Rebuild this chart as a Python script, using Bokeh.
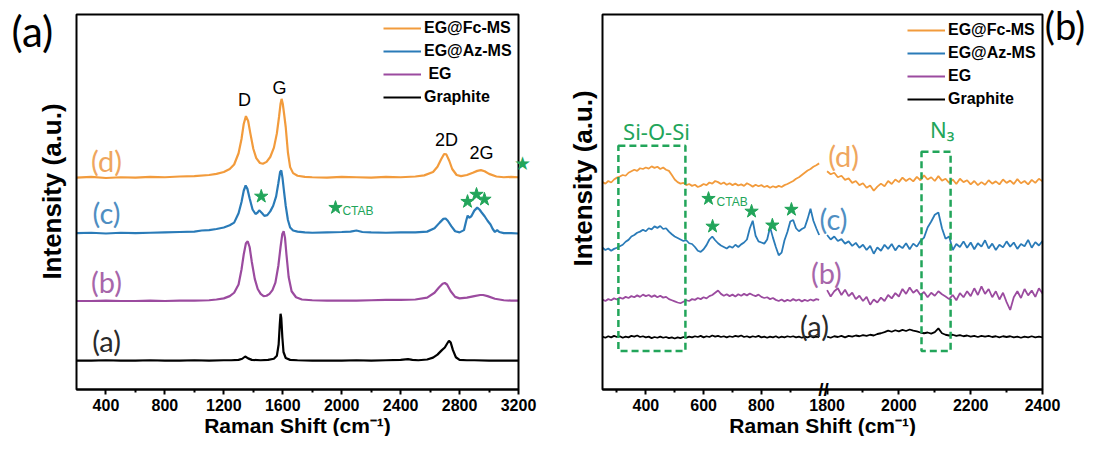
import math
from bokeh.plotting import figure
from bokeh.layouts import row
from bokeh.models import (Range1d, LinearAxis, FixedTicker, Legend, LegendItem,
                          Label, BoxAnnotation, Grid)
from bokeh.embed import file_html
from bokeh.resources import INLINE

# ---------------- data: panel (a) ----------------
FC_A_X = [200, 300, 400, 500, 600, 700, 800, 900, 1000, 1100,
          1150, 1200, 1240, 1270, 1300, 1320, 1335, 1350, 1365, 1380,
          1400, 1420, 1445, 1465, 1490, 1515, 1540, 1560, 1575, 1585,
          1592, 1600, 1610, 1620, 1635, 1650, 1670, 1700, 1750, 1800,
          1900, 2000, 2100, 2200, 2300, 2400, 2500, 2560, 2620, 2650,
          2675, 2695, 2710, 2730, 2750, 2780, 2810, 2850, 2890, 2920,
          2945, 2970, 3000, 3050, 3100, 3150, 3200]
FC_A_Y = [0.565, 0.567, 0.564, 0.566, 0.565, 0.567, 0.566, 0.568, 0.569, 0.572,
          0.575, 0.580, 0.588, 0.600, 0.630, 0.668, 0.708, 0.729, 0.716, 0.683,
          0.642, 0.617, 0.604, 0.602, 0.607, 0.620, 0.645, 0.683, 0.728, 0.762,
          0.775, 0.762, 0.732, 0.700, 0.632, 0.593, 0.577, 0.570, 0.567, 0.566,
          0.565, 0.567, 0.566, 0.565, 0.567, 0.566, 0.568, 0.571, 0.580, 0.594,
          0.614, 0.628, 0.627, 0.610, 0.588, 0.572, 0.569, 0.572, 0.578, 0.583,
          0.585, 0.582, 0.575, 0.568, 0.566, 0.567, 0.566]

AZ_A_X = [200, 300, 400, 500, 600, 700, 800, 900, 1000, 1050,
          1100, 1150, 1200, 1240, 1270, 1300, 1320, 1335, 1348, 1360,
          1375, 1395, 1415, 1430, 1440, 1450, 1460, 1475, 1495, 1515,
          1535, 1555, 1570, 1582, 1590, 1598, 1608, 1620, 1635, 1650,
          1670, 1700, 1750, 1800, 1900, 2000, 2060, 2100, 2140, 2200,
          2300, 2400, 2500, 2580, 2630, 2665, 2690, 2705, 2720, 2745,
          2770, 2800, 2830, 2845, 2855, 2865, 2880, 2900, 2920, 2935,
          2950, 2970, 2990, 3010, 3025, 3040, 3055, 3070, 3100, 3150,
          3200]
AZ_A_Y = [0.417, 0.418, 0.416, 0.418, 0.417, 0.418, 0.419, 0.420, 0.421, 0.424,
          0.425, 0.428, 0.432, 0.438, 0.445, 0.470, 0.500, 0.530, 0.544, 0.535,
          0.510, 0.480, 0.468, 0.472, 0.478, 0.474, 0.470, 0.463, 0.465, 0.475,
          0.490, 0.515, 0.550, 0.580, 0.584, 0.565, 0.530, 0.490, 0.452, 0.432,
          0.424, 0.421, 0.419, 0.418, 0.419, 0.420, 0.421, 0.424, 0.420, 0.419,
          0.418, 0.419, 0.419, 0.421, 0.430, 0.445, 0.455, 0.456, 0.450, 0.435,
          0.422, 0.419, 0.425, 0.450, 0.464, 0.458, 0.462, 0.477, 0.485, 0.480,
          0.472, 0.462, 0.450, 0.440, 0.428, 0.420, 0.425, 0.420, 0.417, 0.417,
          0.416]

EG_A_X = [200, 300, 400, 500, 600, 700, 800, 900, 1000, 1100,
          1150, 1200, 1240, 1270, 1300, 1320, 1335, 1350, 1362, 1375,
          1390, 1410, 1430, 1450, 1470, 1490, 1510, 1530, 1550, 1570,
          1585, 1597, 1606, 1615, 1625, 1640, 1660, 1690, 1730, 1800,
          1900, 2000, 2100, 2200, 2300, 2400, 2500, 2580, 2630, 2660,
          2685, 2700, 2715, 2740, 2770, 2800, 2850, 2900, 2940, 2960,
          2990, 3040, 3100, 3150, 3200]
EG_A_Y = [0.236, 0.236, 0.237, 0.236, 0.236, 0.237, 0.236, 0.237, 0.237, 0.238,
          0.240, 0.243, 0.249, 0.258, 0.280, 0.320, 0.360, 0.390, 0.395, 0.380,
          0.340, 0.295, 0.268, 0.255, 0.249, 0.250, 0.255, 0.265, 0.285, 0.330,
          0.380, 0.415, 0.422, 0.405, 0.360, 0.300, 0.262, 0.246, 0.240, 0.238,
          0.237, 0.237, 0.237, 0.238, 0.239, 0.239, 0.240, 0.245, 0.258, 0.272,
          0.282, 0.284, 0.280, 0.262, 0.247, 0.243, 0.245, 0.249, 0.252, 0.252,
          0.249, 0.242, 0.238, 0.237, 0.237]

GR_A_X = [200, 300, 400, 500, 600, 700, 800, 900, 1000, 1100,
          1200, 1250, 1300, 1325, 1345, 1365, 1390, 1450, 1500, 1540,
          1560, 1572, 1580, 1585, 1590, 1597, 1605, 1620, 1650, 1700,
          1800, 1900, 2000, 2100, 2200, 2300, 2400, 2450, 2480, 2520,
          2580, 2620, 2650, 2680, 2700, 2715, 2728, 2740, 2755, 2775,
          2800, 2850, 2900, 3000, 3100, 3200]
GR_A_Y = [0.077, 0.077, 0.078, 0.077, 0.077, 0.078, 0.077, 0.077, 0.078, 0.077,
          0.078, 0.078, 0.079, 0.082, 0.088, 0.083, 0.079, 0.078, 0.079, 0.082,
          0.090, 0.120, 0.175, 0.202, 0.190, 0.140, 0.100, 0.084, 0.079, 0.078,
          0.077, 0.077, 0.077, 0.078, 0.077, 0.078, 0.079, 0.081, 0.079, 0.078,
          0.080, 0.085, 0.093, 0.105, 0.112, 0.122, 0.130, 0.125, 0.105, 0.086,
          0.079, 0.078, 0.078, 0.077, 0.077, 0.077]

A_TICKS = [400, 800, 1200, 1600, 2000, 2400, 2800, 3200]
A_MINOR = [600, 1000, 1400, 1800, 2200, 2600, 3000]
A_STAR_X = [1454, 1958, 2854, 2915, 2969]
A_STAR_Y = [0.515, 0.485, 0.501, 0.520, 0.507]

# ---------------- data: panel (b) ----------------
B_X_LEFT = list(range(250, 1001, 10))
B_X_RIGHT = list(range(1800, 2401, 10))

FC_B_L = [0.553, 0.549, 0.556, 0.552, 0.560, 0.565, 0.568, 0.572, 0.570, 0.578,
          0.582, 0.586, 0.583, 0.590, 0.588, 0.592, 0.589, 0.595, 0.591, 0.594,
          0.588, 0.592, 0.586, 0.583, 0.572, 0.560, 0.553, 0.549, 0.551, 0.545,
          0.548, 0.543, 0.546, 0.540, 0.543, 0.548, 0.545, 0.552, 0.549, 0.556,
          0.553, 0.548, 0.552, 0.546, 0.550, 0.545, 0.549, 0.544, 0.547, 0.543,
          0.550, 0.546, 0.541, 0.546, 0.542, 0.545, 0.540, 0.543, 0.538, 0.542,
          0.539, 0.543, 0.540, 0.545, 0.548, 0.552, 0.556, 0.562, 0.566, 0.572,
          0.578, 0.584, 0.588, 0.594, 0.598, 0.603]
FC_B_R = [0.582, 0.574, 0.578, 0.566, 0.570, 0.559, 0.563, 0.551, 0.556, 0.545,
          0.550, 0.538, 0.544, 0.530, 0.541, 0.549, 0.542, 0.556, 0.548, 0.560,
          0.553, 0.565, 0.556, 0.563, 0.555, 0.567, 0.558, 0.571, 0.560, 0.566,
          0.556, 0.569, 0.557, 0.562, 0.551, 0.560, 0.548, 0.562, 0.553, 0.558,
          0.547, 0.556, 0.545, 0.553, 0.546, 0.558, 0.549, 0.555, 0.547, 0.560,
          0.551, 0.557, 0.548, 0.561, 0.550, 0.556, 0.547, 0.559, 0.551, 0.562,
          0.555]

AZ_B_L = [0.378, 0.372, 0.376, 0.370, 0.375, 0.378, 0.382, 0.386, 0.394, 0.399,
          0.408, 0.412, 0.418, 0.421, 0.426, 0.422, 0.430, 0.427, 0.435, 0.431,
          0.436, 0.428, 0.430, 0.421, 0.414, 0.408, 0.404, 0.400, 0.396, 0.398,
          0.390, 0.388, 0.380, 0.370, 0.367, 0.374, 0.385, 0.400, 0.408, 0.398,
          0.390, 0.384, 0.380, 0.376, 0.382, 0.378, 0.386, 0.380, 0.387, 0.392,
          0.400, 0.430, 0.450, 0.410, 0.395, 0.392, 0.389, 0.400, 0.433, 0.405,
          0.380, 0.358, 0.365, 0.398, 0.420, 0.448, 0.452, 0.430, 0.422, 0.428,
          0.432, 0.455, 0.482, 0.450, 0.430, 0.412]
AZ_B_R = [0.412, 0.400, 0.408, 0.396, 0.401, 0.389, 0.395, 0.383, 0.391, 0.378,
          0.386, 0.372, 0.383, 0.362, 0.379, 0.370, 0.386, 0.375, 0.388, 0.371,
          0.384, 0.377, 0.390, 0.374, 0.389, 0.381, 0.396, 0.405, 0.432, 0.448,
          0.466, 0.472, 0.430, 0.402, 0.408, 0.372, 0.388, 0.380, 0.395, 0.378,
          0.392, 0.374, 0.390, 0.381, 0.398, 0.376, 0.389, 0.372, 0.386, 0.379,
          0.395, 0.381, 0.392, 0.375, 0.388, 0.382, 0.399, 0.378, 0.393, 0.384,
          0.396]

EG_B_L = [0.240, 0.236, 0.241, 0.238, 0.243, 0.240, 0.245, 0.242, 0.247, 0.244,
          0.249, 0.246, 0.251, 0.247, 0.253, 0.249, 0.252, 0.247, 0.251, 0.246,
          0.250, 0.245, 0.247, 0.241, 0.238, 0.235, 0.232, 0.230, 0.234, 0.238,
          0.236, 0.241, 0.239, 0.244, 0.241, 0.246, 0.243, 0.249, 0.252, 0.258,
          0.264, 0.255, 0.250, 0.254, 0.249, 0.253, 0.248, 0.254, 0.250, 0.255,
          0.251, 0.256, 0.252, 0.249, 0.253, 0.247, 0.244, 0.246, 0.241, 0.244,
          0.239, 0.236, 0.240, 0.235, 0.239, 0.236, 0.241, 0.237, 0.240, 0.235,
          0.239, 0.236, 0.240, 0.237, 0.241, 0.239]
EG_B_R = [0.265, 0.248, 0.262, 0.270, 0.252, 0.266, 0.249, 0.258, 0.241, 0.250,
          0.236, 0.247, 0.226, 0.240, 0.232, 0.245, 0.236, 0.252, 0.243, 0.257,
          0.248, 0.268, 0.255, 0.272, 0.258, 0.266, 0.252, 0.260, 0.246, 0.258,
          0.250, 0.262, 0.254, 0.248, 0.241, 0.252, 0.238, 0.257, 0.246, 0.262,
          0.249, 0.270, 0.252, 0.275, 0.255, 0.268, 0.246, 0.262, 0.240, 0.258,
          0.233, 0.212, 0.246, 0.262, 0.244, 0.268, 0.251, 0.264, 0.247, 0.270,
          0.256]

GR_B_L = [0.141, 0.138, 0.142, 0.139, 0.143, 0.140, 0.142, 0.138, 0.141, 0.139,
          0.143, 0.141, 0.144, 0.140, 0.142, 0.139, 0.141, 0.137, 0.140, 0.138,
          0.141, 0.138, 0.140, 0.137, 0.139, 0.136, 0.139, 0.137, 0.140, 0.138,
          0.141, 0.139, 0.142, 0.140, 0.143, 0.139, 0.142, 0.140, 0.144, 0.141,
          0.143, 0.140, 0.142, 0.139, 0.142, 0.140, 0.143, 0.141, 0.144, 0.140,
          0.142, 0.139, 0.142, 0.140, 0.143, 0.139, 0.141, 0.138, 0.141, 0.139,
          0.142, 0.138, 0.141, 0.139, 0.142, 0.140, 0.142, 0.139, 0.141, 0.138,
          0.141, 0.139, 0.142, 0.139, 0.141, 0.140]
GR_B_R = [0.141, 0.138, 0.142, 0.140, 0.143, 0.139, 0.143, 0.141, 0.144, 0.142,
          0.145, 0.143, 0.146, 0.144, 0.148, 0.150, 0.153, 0.157, 0.154, 0.158,
          0.155, 0.159, 0.156, 0.160, 0.157, 0.155, 0.152, 0.150, 0.152, 0.149,
          0.153, 0.163, 0.150, 0.146, 0.144, 0.146, 0.143, 0.145, 0.142, 0.144,
          0.141, 0.143, 0.140, 0.143, 0.141, 0.143, 0.140, 0.142, 0.139, 0.142,
          0.140, 0.142, 0.139, 0.141, 0.138, 0.141, 0.139, 0.142, 0.139, 0.141,
          0.139]

B_TICKS_L = [400, 600, 800]
B_MINOR_L = [300, 500, 700, 900]
B_TICKS_R = [1800, 2000, 2200, 2400]
B_MINOR_R = [1900, 2100, 2300]
B_STAR_X = [617, 631, 766, 838, 904]
B_STAR_Y = [0.509, 0.435, 0.475, 0.438, 0.480]

for xs, ys in [(FC_A_X, FC_A_Y), (AZ_A_X, AZ_A_Y), (EG_A_X, EG_A_Y), (GR_A_X, GR_A_Y)]:
    assert len(xs) == len(ys)
for ys in [FC_B_L, AZ_B_L, EG_B_L, GR_B_L]:
    assert len(ys) == len(B_X_LEFT), len(ys)
for ys in [FC_B_R, AZ_B_R, EG_B_R, GR_B_R]:
    assert len(ys) == len(B_X_RIGHT), len(ys)

# ---------------- styling / layout ----------------
C_FC = "#F29B3C"
C_AZ = "#2A7BB8"
C_EG = "#9B4B9F"
C_GR = "#000000"
GREEN = "#22A55A"
LC_FC = "#EFA65E"
LC_AZ = "#4F8EC2"
LC_EG = "#A766AA"
LC_GR = "#2A2A2A"
FONT = "Liberation Sans"
LIGHT = "Lato"

H = 436                      # canvas height
FRAME_TOP, FRAME_BOTTOM = 14, 389
A_W, A_FRAME = 560, (76, 518)
B_W, B_FRAME, B_BREAK = 525, (42, 482), 263
A_SEG = (200, 3200)
B_LEFT_SEG = (250, 1015)
B_RIGHT_SEG = (1790, 2400)


def span_range(d0, d1, p0, p1, total):
    s = (p1 - p0) / (d1 - d0)
    return Range1d(d0 - p0 / s, d0 + (total - p0) / s), s


def y_range():
    s = FRAME_BOTTOM - FRAME_TOP
    return Range1d(-(H - FRAME_BOTTOM) / s, 1 + FRAME_TOP / s)


def bare_figure(width, xr):
    p = figure(width=width, height=H, x_range=xr, y_range=y_range(),
               output_backend="svg", toolbar_location=None,
               x_axis_location=None, y_axis_location=None,
               min_border=0, min_border_left=0, min_border_right=0,
               min_border_top=0, min_border_bottom=0)
    p.outline_line_color = None
    for g in list(p.center):
        if isinstance(g, Grid):
            g.visible = False
    return p


def bottom_axis(p, ticks, minor, bounds, range_name="default"):
    ax = LinearAxis(fixed_location=0, bounds=bounds, x_range_name=range_name)
    ax.ticker = FixedTicker(ticks=ticks, minor_ticks=minor)
    ax.axis_line_width = 2
    ax.major_tick_line_width = 2
    ax.minor_tick_line_width = 2
    ax.major_tick_in = 0
    ax.major_tick_out = 5
    ax.minor_tick_in = 0
    ax.minor_tick_out = 3
    ax.major_label_text_font = FONT
    ax.major_label_text_font_style = "bold"
    ax.major_label_text_font_size = "16px"
    ax.major_label_text_color = "black"
    ax.major_label_standoff = 4
    p.add_layout(ax, "below")


def frame_box(p, left, right, range_name="default"):
    p.add_layout(BoxAnnotation(left=left, right=right, bottom=0, top=1,
                               fill_alpha=0, line_color="black", line_alpha=1,
                               line_width=2, x_range_name=range_name))


def legend_for(items, loc):
    return Legend(items=items, location=loc, label_text_font=FONT,
                  label_text_font_style="bold", label_text_font_size="16px",
                  label_text_color="black", glyph_width=38, glyph_height=20,
                  label_height=20, label_standoff=3, spacing=3, padding=0,
                  margin=0, border_line_color=None, background_fill_alpha=0)


def lab(p, x, y, text, color, size, font=FONT, style="normal", align="center",
        angle=0, **kw):
    p.add_layout(Label(x=x, y=y, text=text, text_color=color, text_font=font,
                       text_font_size=size, text_font_style=style, angle=angle,
                       text_align=align, text_baseline="middle", **kw))


XLABEL = "Raman Shift (cm\u207b\u00b9)"
YLABEL = "Intensity (a.u.)"

# ---------------- panel (a) ----------------
xr_a, sa = span_range(A_SEG[0], A_SEG[1], A_FRAME[0], A_FRAME[1], A_W)
fa = bare_figure(A_W, xr_a)
frame_box(fa, A_SEG[0], A_SEG[1])
bottom_axis(fa, A_TICKS, A_MINOR, A_SEG)

ra_gr = fa.line(GR_A_X, GR_A_Y, color=C_GR, line_width=2.2)
ra_eg = fa.line(EG_A_X, EG_A_Y, color=C_EG, line_width=2.2)
ra_az = fa.line(AZ_A_X, AZ_A_Y, color=C_AZ, line_width=2.2)
ra_fc = fa.line(FC_A_X, FC_A_Y, color=C_FC, line_width=2.2)
fa.scatter(A_STAR_X, A_STAR_Y, marker="star", size=14, color=GREEN)

fa.add_layout(legend_for([LegendItem(label="EG@Fc-MS", renderers=[ra_fc]),
                          LegendItem(label="EG@Az-MS", renderers=[ra_az]),
                          LegendItem(label=" EG", renderers=[ra_eg]),
                          LegendItem(label="Graphite", renderers=[ra_gr])],
                         (383, H - 107)))

lab(fa, 1700, -0.097, XLABEL, "black", "21px", style="bold")
lab(fa, 32, 0.528, YLABEL, "black", "26px", style="bold", angle=math.pi / 2)
lab(fa, -99, 0.955, "(a)", "black", "42px", font=LIGHT)
lab(fa, 404, 0.610, "(d)", LC_FC, "29px", font=LIGHT)
lab(fa, 404, 0.472, "(c)", LC_AZ, "29px", font=LIGHT)
lab(fa, 404, 0.289, "(b)", LC_EG, "29px", font=LIGHT)
lab(fa, 404, 0.130, "(a)", LC_GR, "29px", font=LIGHT)
lab(fa, 1340, 0.772, "D", "black", "18px")
lab(fa, 1578, 0.804, "G", "black", "18px")
lab(fa, 2711, 0.666, "2D", "black", "18px")
lab(fa, 2949, 0.631, "2G", "black", "18px")
lab(fa, 2005, 0.477, "CTAB", GREEN, "12px", align="left")
lab(fa, 3227, 0.605, "\u2605", GREEN, "19px", font="DejaVu Sans")

# ---------------- panel (b): broken x axis ----------------
xr_bl, sbl = span_range(B_LEFT_SEG[0], B_LEFT_SEG[1], B_FRAME[0], B_BREAK, B_W)
xr_br, sbr = span_range(B_RIGHT_SEG[0], B_RIGHT_SEG[1], B_BREAK, B_FRAME[1], B_W)
fb = bare_figure(B_W, xr_bl)
fb.extra_x_ranges = {"right": xr_br}
frame_right_in_left = B_LEFT_SEG[0] + (B_FRAME[1] - B_FRAME[0]) / sbl
frame_box(fb, B_LEFT_SEG[0], frame_right_in_left)
bottom_axis(fb, B_TICKS_L, B_MINOR_L, B_LEFT_SEG)
bottom_axis(fb, B_TICKS_R, B_MINOR_R, B_RIGHT_SEG, "right")

fb.line(B_X_LEFT, GR_B_L, color=C_GR, line_width=1.8)
fb.line(B_X_LEFT, EG_B_L, color=C_EG, line_width=1.8)
fb.line(B_X_LEFT, AZ_B_L, color=C_AZ, line_width=1.8)
fb.line(B_X_LEFT, FC_B_L, color=C_FC, line_width=1.8)
rb_gr = fb.line(B_X_RIGHT, GR_B_R, color=C_GR, line_width=1.8, x_range_name="right")
rb_eg = fb.line(B_X_RIGHT, EG_B_R, color=C_EG, line_width=1.8, x_range_name="right")
rb_az = fb.line(B_X_RIGHT, AZ_B_R, color=C_AZ, line_width=1.8, x_range_name="right")
rb_fc = fb.line(B_X_RIGHT, FC_B_R, color=C_FC, line_width=1.8, x_range_name="right")
fb.scatter(B_STAR_X, B_STAR_Y, marker="star", size=14, color=GREEN)

fb.add_layout(BoxAnnotation(left=305, right=537, bottom=0.103, top=0.650,
                            fill_alpha=0, line_color=GREEN, line_alpha=1,
                            line_width=2.5, line_dash="7 4"))
fb.add_layout(BoxAnnotation(left=2063, right=2144, bottom=0.103, top=0.634,
                            fill_alpha=0, line_color=GREEN, line_alpha=1,
                            line_width=2.5, line_dash="7 4", x_range_name="right"))

fb.add_layout(legend_for([LegendItem(label="EG@Fc-MS", renderers=[rb_fc]),
                          LegendItem(label="EG@Az-MS", renderers=[rb_az]),
                          LegendItem(label="EG", renderers=[rb_eg]),
                          LegendItem(label="Graphite", renderers=[rb_gr])],
                         (347, H - 109)))

lab(fb, 1012, -0.097, XLABEL, "black", "21px", style="bold")
lab(fb, 184, 0.563, YLABEL, "black", "26px", style="bold", angle=math.pi / 2)
lab(fb, 437, 0.690, "Si-O-Si", GREEN, "22px", font="Noto Sans")
lab(fb, 2121, 0.695, "N\u2083", GREEN, "22px", font="Noto Sans", x_range_name="right")
lab(fb, 645, 0.501, "CTAB", GREEN, "12px", align="left")
lab(fb, 1846, 0.623, "(d)", LC_FC, "29px", font=LIGHT, x_range_name="right")
lab(fb, 1818, 0.456, "(c)", LC_AZ, "29px", font=LIGHT, x_range_name="right")
lab(fb, 1798, 0.313, "(b)", LC_EG, "29px", font=LIGHT, x_range_name="right")
lab(fb, 1765, 0.170, "(a)", LC_GR, "29px", font=LIGHT, x_range_name="right")
lab(fb, B_LEFT_SEG[1], 0.0, "//", "black", "19px", style="bold")
lab(fb, 2519, 0.971, "(b)", "black", "38px", font=LIGHT, x_range_name="right", align="right")

layout = row(fa, fb)
open("out.html", "w").write(file_html(layout, INLINE))
